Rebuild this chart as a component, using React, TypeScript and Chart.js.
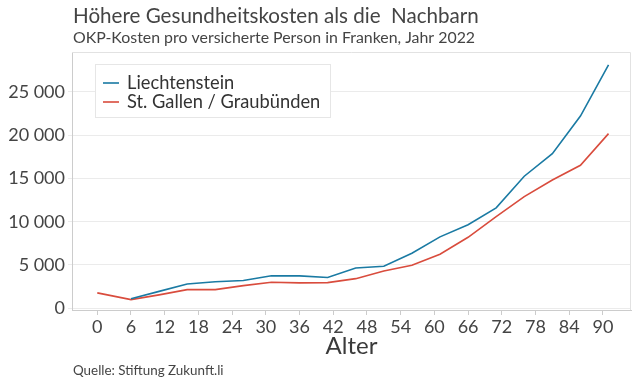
import React, { useEffect, useRef } from "react";
import { Chart, registerables } from "chart.js";

Chart.register(...registerables);

const ages = [0, 6, 11, 16, 21, 26, 31, 36, 41, 46, 51, 56, 61, 66, 71, 76, 81, 86, 91];
const liechtenstein = [null, 1100, 1950, 2800, 3070, 3200, 3750, 3740, 3560, 4650, 4850, 6350, 8250, 9650, 11600, 15250, 17850, 22200, 28100];
const stGallenGraubuenden = [1780, 1000, 1550, 2150, 2150, 2620, 3000, 2930, 2960, 3420, 4310, 4970, 6250, 8200, 10580, 12890, 14820, 16520, 20170];
const xTicks = [0, 6, 12, 18, 24, 30, 36, 42, 48, 54, 60, 66, 72, 78, 84, 90];
const yTicks = [0, 5000, 10000, 15000, 20000, 25000];
const seriesLabels = ["Liechtenstein", "St. Gallen / Graubünden"];
const seriesColors = ["#1a7aa3", "#d94c3d"];

const titleText = "Höhere Gesundheitskosten als die  Nachbarn";
const subtitleText = "OKP-Kosten pro versicherte Person in Franken, Jahr 2022";
const xTitle = "Alter";
const sourceText = "Quelle: Stiftung Zukunft.li";

const FONT = "Lato, 'Noto Sans', sans-serif";

const fmt = (v: number) => {
  const s = Math.round(v).toString();
  return s.replace(/\B(?=(\d{3})+(?!\d))/g, " ");
};

const decorPlugin = {
  id: "decor",
  beforeDatasetsDraw(chart: any) {
    const { ctx, chartArea } = chart;
    ctx.save();
    ctx.strokeStyle = "#e2e2e2";
    ctx.lineWidth = 1;
    ctx.beginPath();
    ctx.moveTo(chartArea.left, chartArea.top + 0.5);
    ctx.lineTo(chartArea.right - 0.5, chartArea.top + 0.5);
    ctx.lineTo(chartArea.right - 0.5, chartArea.bottom);
    ctx.stroke();
    ctx.restore();
  },
  afterDraw(chart: any) {
    const { ctx, chartArea } = chart;
    ctx.save();
    ctx.textBaseline = "middle";
    ctx.textAlign = "left";
    ctx.fillStyle = "#444444";
    ctx.font = `20.6px ${FONT}`;
    ctx.fillText(titleText, 73, 16);
    ctx.font = `15.9px ${FONT}`;
    ctx.fillText(subtitleText, 73, 38);
    ctx.font = `13.4px ${FONT}`;
    ctx.fillText(sourceText, 73, 371);
    ctx.textAlign = "center";
    ctx.font = `24px ${FONT}`;
    ctx.fillStyle = "#3a3a3a";
    ctx.fillText(xTitle, (chartArea.left + chartArea.right) / 2, 346);

    // legend
    const bx = 95, by = 64, bw = 235, bh = 53;
    ctx.fillStyle = "#ffffff";
    ctx.fillRect(bx, by, bw, bh);
    ctx.strokeStyle = "#e6e6e6";
    ctx.lineWidth = 1;
    ctx.strokeRect(bx + 0.5, by + 0.5, bw, bh);
    const rows = [83, 102];
    chart.data.datasets.forEach((ds: any, i: number) => {
      const y = rows[i];
      ctx.strokeStyle = ds.borderColor;
      ctx.lineWidth = 1.6;
      ctx.beginPath();
      ctx.moveTo(103, y);
      ctx.lineTo(119, y);
      ctx.stroke();
      ctx.fillStyle = "#333333";
      ctx.textAlign = "left";
      ctx.font = `18.3px ${FONT}`;
      ctx.fillText(ds.label, 127, y);
    });
    ctx.restore();
  },
};

export default function App() {
  const ref = useRef<HTMLCanvasElement | null>(null);
  useEffect(() => {
    if (!ref.current) return;
    const chart = new Chart(ref.current, {
      type: "line",
      data: {
        datasets: [
          {
            label: seriesLabels[0],
            data: ages.map((a, i) => ({ x: a, y: liechtenstein[i] })),
            borderColor: seriesColors[0],
            backgroundColor: seriesColors[0],
            borderWidth: 1.6,
            pointRadius: 0,
            tension: 0,
            spanGaps: false,
          },
          {
            label: seriesLabels[1],
            data: ages.map((a, i) => ({ x: a, y: stGallenGraubuenden[i] })),
            borderColor: seriesColors[1],
            backgroundColor: seriesColors[1],
            borderWidth: 1.6,
            pointRadius: 0,
            tension: 0,
          },
        ],
      },
      options: {
        responsive: false,
        animation: false,
        layout: { padding: { left: 0, top: 52, right: 9, bottom: 0 } },
        plugins: {
          legend: { display: false },
          tooltip: { enabled: false },
          title: { display: false },
        },
        scales: {
          x: {
            type: "linear",
            min: -4.5,
            max: 95,
            afterBuildTicks: (scale: any) => {
              scale.ticks = xTicks.map((v) => ({ value: v }));
            },
            afterFit: (scale: any) => {
              scale.height = 74;
            },
            grid: {
              drawOnChartArea: false,
              drawTicks: true,
              tickLength: 5,
              color: "#cccccc",
            },
            border: { color: "#cccccc", width: 1 },
            ticks: {
              padding: 1,
              color: "#444444",
              font: { family: FONT, size: 18 },
              maxRotation: 0,
              autoSkip: false,
              callback: (v: any) => String(v),
            },
          },
          y: {
            type: "linear",
            min: -200,
            max: 29600,
            afterBuildTicks: (scale: any) => {
              scale.ticks = yTicks.map((v) => ({ value: v }));
            },
            afterFit: (scale: any) => {
              scale.width = 72;
            },
            grid: {
              color: "#ebebeb",
              lineWidth: 1,
              drawTicks: true,
              tickLength: 4,
            },
            border: { color: "#cccccc", width: 1 },
            ticks: {
              padding: 3,
              color: "#444444",
              font: { family: FONT, size: 18 },
              callback: (v: any) => fmt(Number(v)),
            },
          },
        },
      },
      plugins: [decorPlugin],
    });
    return () => chart.destroy();
  }, []);
  return (
    <div style={{ position: "fixed", left: 0, top: 0, width: 640, height: 384, background: "#fff" }}>
      <canvas ref={ref} width={640} height={384} />
    </div>
  );
}
